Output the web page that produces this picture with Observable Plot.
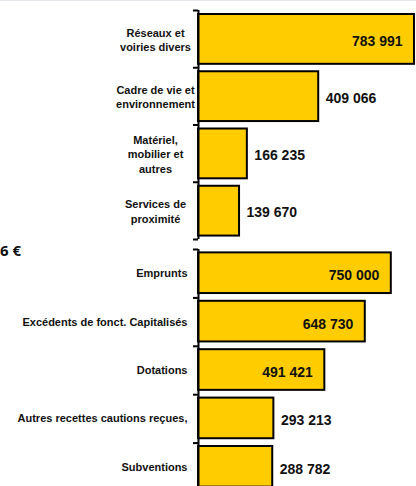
<!DOCTYPE html>
<html>
<head>
<meta charset="utf-8">
<script src="https://cdn.jsdelivr.net/npm/d3@7"></script>
<script src="https://cdn.jsdelivr.net/npm/@observablehq/plot@0.6"></script>
<style>
  html, body { margin: 0; padding: 0; background: #fff; overflow: hidden; }
  #wrap { position: relative; width: 416px; height: 486px; overflow: hidden; }
  #topline { position: absolute; left: 0; top: 0; width: 416px; height: 1px; background: #e3e6ea; }
  #total { position: absolute; left: 0; top: 243px; font-family: "Open Sans", sans-serif; font-weight: bold; font-size: 15px; line-height: 15px; color: #111; white-space: nowrap; }
  svg { display: block; }
</style>
</head>
<body>
<div id="wrap">
  <div id="charts"></div>
  <div id="total">6 €</div>
  <div id="topline"></div>
</div>
<script>
// Dépenses (top block)
const depCategories = ["Réseaux et\nvoiries divers", "Cadre de vie et\nenvironnement", "Matériel,\nmobilier et\nautres", "Services de\nproximité"];
const depValues = [783991, 409066, 166235, 139670];

// Recettes (bottom block)
const recCategories = ["Emprunts", "Excédents de fonct. Capitalisés", "Dotations", "Autres recettes cautions reçues,", "Subventions"];
const recValues = [750000, 648730, 491421, 293213, 288782];

const fmt = v => d3.format(",")(v).replace(/,/g, " ");
const FONT = "Liberation Sans, Arial, sans-serif";
const GOLD = "#FFCC00";

function block({cats, vals, height, marginTop, marginBottom, marginRight, xMax, clamp, padTop, padBottom, labelOpts}) {
  const n = cats.length;
  const rows = cats.map((c, i) => ({cat: c, value: vals[i], i}));
  const inside = d => d.value > 450000;
  return Plot.plot({
    width: 416,
    height,
    marginTop,
    marginBottom,
    marginLeft: 198,
    marginRight,
    style: {fontFamily: FONT, background: "transparent", overflow: "visible"},
    x: {domain: [0, xMax], clamp, axis: null},
    y: {domain: [0, n], reverse: true, axis: null},
    marks: [
      Plot.rectX(rows, {
        x1: 0, x2: "value",
        y1: d => d.i + padTop, y2: d => d.i + 1 - padBottom,
        fill: GOLD, stroke: "#000", strokeWidth: 2
      }),
      Plot.axisY({
        ticks: d3.range(n + 1), tickSize: 5, tickFormat: () => "",
        stroke: "#000", strokeWidth: 2, label: null
      }),
      Plot.ruleX([0], {y1: 0, y2: n, stroke: "#000", strokeWidth: 2}),
      Plot.text(rows, {
        x: 0, y: d => d.i + 0.5, text: "cat",
        fontSize: 11, fontWeight: "bold", fill: "#111",
        ...labelOpts
      }),
      Plot.text(rows.filter(inside), {
        x: "value", y: d => d.i + 0.5, text: d => fmt(d.value),
        textAnchor: "end", dx: -12, dy: 2,
        fontSize: 14, fontWeight: "bold", fill: "#111"
      }),
      Plot.text(rows.filter(d => !inside(d)), {
        x: "value", y: d => d.i + 0.5, text: d => fmt(d.value),
        textAnchor: "start", dx: 7, dy: 2,
        fontSize: 14, fontWeight: "bold", fill: "#111"
      })
    ]
  });
}

const depChart = block({
  cats: depCategories, vals: depValues,
  height: 243, marginTop: 10, marginBottom: 4, marginRight: 2,
  xMax: 735000, clamp: true, padTop: 0.07, padBottom: 0.06,
  labelOpts: {textAnchor: "middle", dx: -43, lineHeight: 1.32}
});
const recChart = block({
  cats: recCategories, vals: recValues,
  height: 250, marginTop: 6, marginBottom: 2, marginRight: 0,
  xMax: 848000, clamp: false, padTop: 0.07, padBottom: 0.09,
  labelOpts: {textAnchor: "end", dx: -11}
});
const holder = document.getElementById("charts");
holder.appendChild(depChart);
holder.appendChild(recChart);
</script>
</body>
</html>
